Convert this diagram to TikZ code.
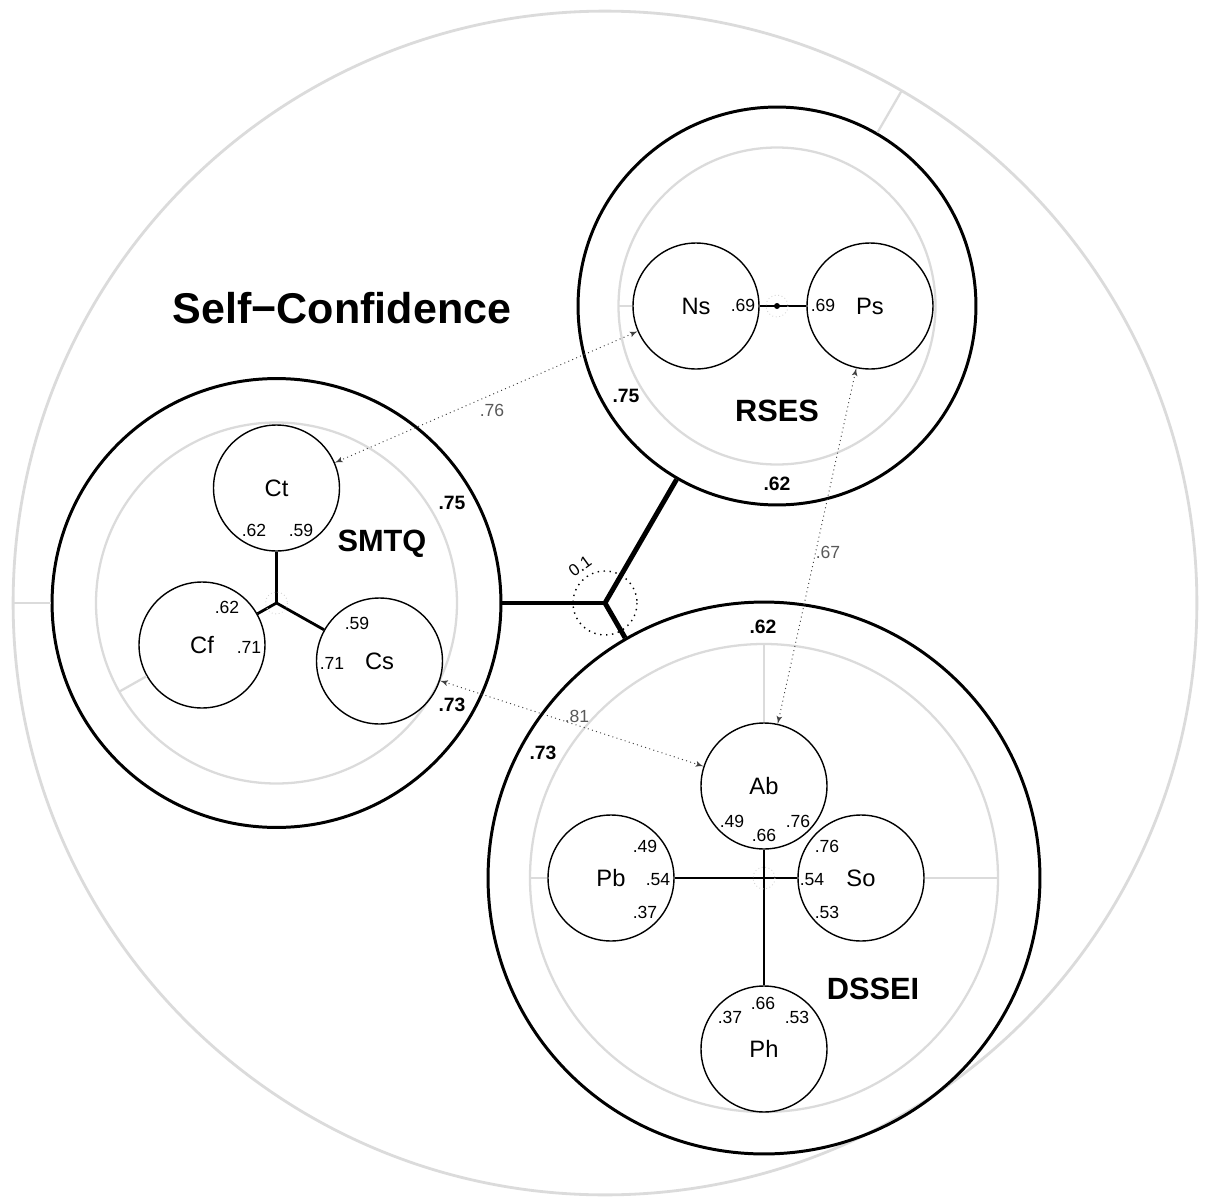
\documentclass[tikz,border=0pt]{standalone}
\usepackage{fontspec}
\setmainfont{Liberation Sans}
\usepackage{tikz}
\usetikzlibrary{arrows}
\usetikzlibrary{calc}
\tikzstyle{selfring} = [circle, draw=gray!28, line width=1.6pt, 
minimum size=23.68cm, inner sep=0pt]
\tikzstyle{group} = [circle, draw, line width=1.7pt, inner sep=0pt]
\tikzstyle{item} = [circle, draw, line width=0.8pt, minimum size=2.52cm, 
inner sep=0pt, font=\fontsize{13.5}{15}\selectfont]
\tikzstyle{ring} = [draw=gray!28, line width=1.3pt]
\tikzstyle{graytick} = [draw=gray!28, line width=1.3pt]
\tikzstyle{hub} = [draw, line width=2.8pt]
\tikzstyle{spoke} = [draw, line width=1.6pt]
\tikzstyle{link} = [draw=black!75, line width=0.55pt, dash pattern=on 0.55pt off 1.9pt, latex'-latex']
\tikzstyle{load} = [inner sep=0pt, font=\fontsize{10}{11}\selectfont]
\tikzstyle{corr} = [inner sep=0pt, font=\bfseries\fontsize{11}{12}\selectfont]
\tikzstyle{rlab} = [inner sep=0pt, text=black!65, font=\fontsize{10}{11}\selectfont]
\tikzstyle{gname} = [inner sep=0pt, font=\bfseries\fontsize{17.5}{19}\selectfont]

\begin{document}
\begin{tikzpicture}[x=0.02cm, y=-0.02cm]
	\useasboundingbox (0,0) rectangle (1205,1197);
	% containers
	\node [selfring] at (605,603) (Self) {};
	\node [group, minimum size=8.98cm] at (276.5,603) (SMTQ) {};
	\node [group, minimum size=7.96cm] at (777,306) (RSES) {};
	\node [group, minimum size=11.04cm] at (764,878) (DSSEI) {};
	\path [ring] (SMTQ.center) circle (180.5);
	\path [ring] (RSES.center) circle (158.5);
	\path [ring] (DSSEI.center) circle (234);
	% indicators
	\node [item] at (276.5,488) (Ct) {Ct};
	\node [item] at (202,645) (Cf) {Cf};
	\node [item] at (379.5,661) (Cs) {Cs};
	\node [item] at (696,306) (Ns) {Ns};
	\node [item] at (870,306) (Ps) {Ps};
	\node [item] at (764,786) (Ab) {Ab};
	\node [item] at (611,878) (Pb) {Pb};
	\node [item] at (861,878) (So) {So};
	\node [item] at (764,1049) (Ph) {Ph};
	% radial ticks
	\foreach \a/\b/\rad in {SMTQ/Self/11.84, RSES/Self/11.84, Cf/SMTQ/3.61, Ns/RSES/3.17,
		Ps/RSES/3.17, Ab/DSSEI/4.68, Pb/DSSEI/4.68, So/DSSEI/4.68}
		\draw [graytick] (\a) -- ($(\b.center)!\rad cm!(\a.center)$);
	% hub
	\draw [hub] (Self.center) -- (SMTQ);
	\draw [hub] (Self.center) -- (RSES);
	\draw [hub] (Self.center) -- (DSSEI);
	\draw [line width=0.8pt, dash pattern=on 0.8pt off 2.6pt] (Self.center) circle (32);
	\node [load, font=\fontsize{9.5}{10}\selectfont, rotate=36] at (580,566) {0.1};
	% spokes
	\draw [spoke] (SMTQ.center) -- (Ct);
	\draw [spoke] (SMTQ.center) -- (Cf);
	\draw [spoke] (SMTQ.center) -- (Cs);
	\draw [spoke] (Ns) -- (Ps);
	\fill (RSES.center) circle (3);
	\draw [spoke] (Ab) -- (Ph);
	\draw [spoke] (Pb) -- (So);
	\foreach \g in {SMTQ, RSES, DSSEI}
		\draw [gray!35, line width=0.5pt, dash pattern=on 0.5pt off 1.5pt] (\g.center) circle (11);
	% residual links
	\draw [link] (Ct) -- (Ns);
	\draw [link] (Cs) -- (Ab);
	\draw [link] (Ps) -- (Ab);
	\node [rlab] at (492,410) {.76};
	\node [rlab] at (577,716) {.81};
	\node [rlab] at (828,552) {.67};
	% names
	\node [inner sep=0pt, font=\bfseries\fontsize{24.5}{27}\selectfont] at (342,308) (title) {Self−Confidence};
	\node [gname] at (382,544) {SMTQ};
	\node [gname] at (777,411) {RSES};
	\node [gname] at (873,989) {DSSEI};
	% factor correlations
	\node [corr] at (452,503) {.75};
	\node [corr] at (626,396) {.75};
	\node [corr] at (452,705) {.73};
	\node [corr] at (543,753) {.73};
	\node [corr] at (777,484) {.62};
	\node [corr] at (763,627) {.62};
	% loadings
	\node [load] at (254,530) {.62};
	\node [load] at (301,530) {.59};
	\node [load] at (227,607) {.62};
	\node [load] at (249,647) {.71};
	\node [load] at (357,623) {.59};
	\node [load] at (332,663) {.71};
	\node [load] at (743,305) {.69};
	\node [load] at (823,305) {.69};
	\node [load] at (732,821) {.49};
	\node [load] at (764,835) {.66};
	\node [load] at (798,821) {.76};
	\node [load] at (645,846) {.49};
	\node [load] at (658,880) {.54};
	\node [load] at (645,912) {.37};
	\node [load] at (827,846) {.76};
	\node [load] at (812,880) {.54};
	\node [load] at (827,912) {.53};
	\node [load] at (730,1017) {.37};
	\node [load] at (763,1003) {.66};
	\node [load] at (797,1017) {.53};
\end{tikzpicture}
\end{document}
